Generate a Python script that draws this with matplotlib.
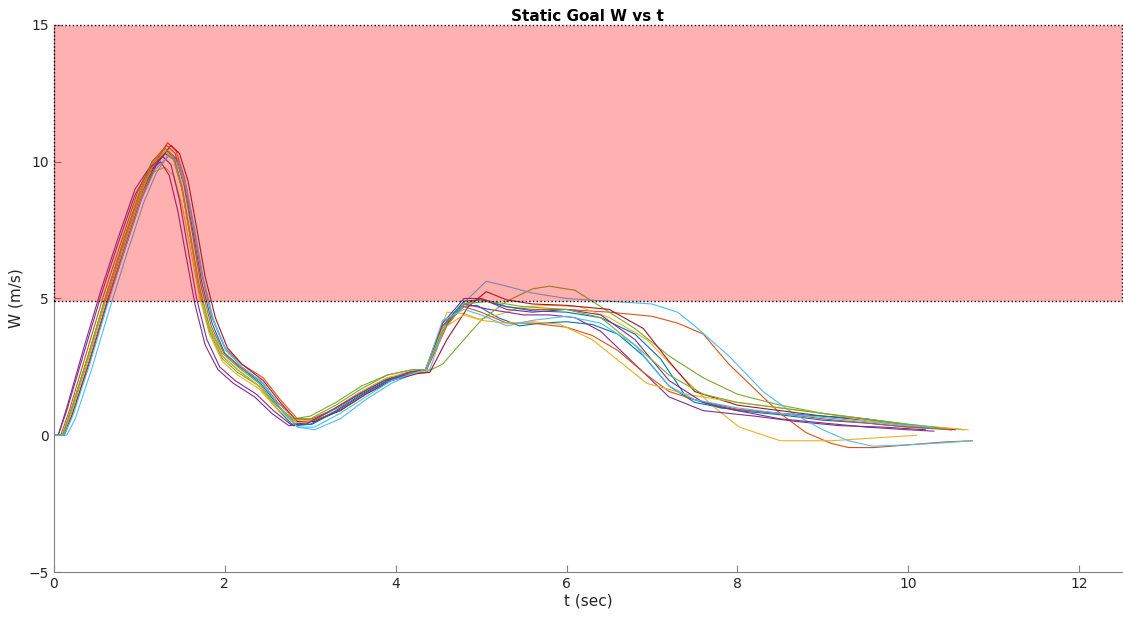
import matplotlib
matplotlib.use('Agg')
import matplotlib.pyplot as plt
from matplotlib.patches import Rectangle

# MATLAB default colour order
COLORS = ['#0072BD', '#D95319', '#EDB120', '#7E2F8E', '#77AC30', '#4DBEEE', '#A2142F']

LIMIT_LOW = 4.9
LIMIT_HIGH = 15

# one trial per list pair: time (s) and W (m/s)
t1 = [0, 0.1, 0.2, 0.4, 0.6, 0.8, 1.0, 1.15, 1.3, 1.4, 1.5, 1.6, 1.7, 1.82, 1.97, 2.15, 2.4, 2.6, 2.8, 3.0, 3.3, 3.6, 3.9, 4.2, 4.35,
      4.55, 4.75, 4.95, 5.2, 5.45, 5.7, 6.0, 6.3, 6.6, 6.9, 7.2, 7.5, 8.0, 8.5, 9.0, 9.5, 10.0, 10.3]
w1 = [0, 0, 0.9, 2.9, 5.0, 6.9, 8.7, 9.8, 10.3, 10.1, 9.0, 7.2, 5.4, 3.9, 2.9, 2.4, 1.8, 1.0, 0.35, 0.4, 0.9, 1.5, 2.0, 2.3, 2.4,
      3.8, 4.7, 4.75, 4.3, 4.0, 4.1, 4.15, 4.05, 3.7, 2.9, 1.8, 1.2, 0.9, 0.75, 0.55, 0.45, 0.3, 0.25]

t2 = [0, 0.12, 0.22, 0.42, 0.62, 0.82, 1.02, 1.18, 1.33, 1.43, 1.53, 1.63, 1.73, 1.85, 2.0, 2.2, 2.45, 2.65, 2.85, 3.05, 3.35, 3.65, 3.95, 4.25, 4.35,
      4.6, 4.8, 5.0, 5.3, 5.6, 6.0, 6.5, 7.0, 7.3, 7.6, 7.9, 8.2, 8.5, 8.8, 9.1, 9.3, 9.6, 10.0, 10.4, 10.75]
w2 = [0, 0, 0.8, 2.8, 4.9, 6.8, 8.7, 9.9, 10.7, 10.4, 9.4, 7.7, 5.9, 4.3, 3.2, 2.6, 2.1, 1.3, 0.6, 0.55, 0.9, 1.5, 2.0, 2.3, 2.3,
      4.0, 4.8, 5.0, 4.7, 4.6, 4.6, 4.5, 4.35, 4.1, 3.7, 2.6, 1.7, 0.8, 0.1, -0.3, -0.45, -0.45, -0.35, -0.25, -0.2]

t3 = [0, 0.1, 0.2, 0.4, 0.6, 0.8, 1.0, 1.15, 1.3, 1.4, 1.5, 1.6, 1.7, 1.82, 1.97, 2.15, 2.4, 2.6, 2.8, 3.0, 3.3, 3.6, 3.9, 4.2, 4.35,
      4.6, 4.8, 4.98, 5.2, 5.49, 5.8, 6.15, 6.5, 6.94, 7.4, 7.7, 8.02, 8.5, 9.1, 9.6, 10.1]
w3 = [0, 0, 0.8, 2.8, 4.9, 6.8, 8.6, 9.6, 9.8, 9.5, 8.4, 6.8, 5.1, 3.7, 2.7, 2.2, 1.7, 1.0, 0.5, 0.55, 1.0, 1.6, 2.1, 2.35, 2.4,
      4.5, 4.45, 4.24, 4.4, 4.7, 4.75, 4.7, 4.3, 3.5, 2.0, 1.1, 0.3, -0.2, -0.2, -0.1, 0.0]

t4 = [0, 0.05, 0.15, 0.35, 0.55, 0.75, 0.95, 1.1, 1.25, 1.35, 1.45, 1.55, 1.65, 1.77, 1.92, 2.1, 2.35, 2.55, 2.75, 2.95, 3.25, 3.55, 3.85, 4.15, 4.35,
      4.55, 4.8, 5.1, 5.5, 5.8, 6.1, 6.4, 6.8, 7.2, 7.6, 8.2, 8.7, 9.2, 9.7, 10.2]
w4 = [0, 0, 0.9, 3.0, 5.1, 7.0, 8.8, 9.6, 10.0, 9.5, 8.2, 6.5, 4.8, 3.3, 2.4, 1.9, 1.4, 0.8, 0.35, 0.4, 0.9, 1.5, 2.0, 2.3, 2.4,
      3.9, 4.8, 4.6, 4.4, 4.4, 4.3, 3.8, 2.6, 1.4, 0.9, 0.7, 0.5, 0.35, 0.3, 0.2]

t5 = [0, 0.1, 0.2, 0.4, 0.6, 0.8, 1.0, 1.15, 1.3, 1.4, 1.5, 1.6, 1.7, 1.82, 1.97, 2.15, 2.4, 2.6, 2.8, 3.0, 3.3, 3.6, 3.9, 4.2, 4.35,
      4.55, 4.8, 5.0, 5.3, 5.6, 5.8, 6.1, 6.4, 6.8, 7.2, 7.6, 8.0, 8.5, 9.0, 9.5, 10.0, 10.65]
w5 = [0, 0, 0.9, 2.9, 5.0, 6.9, 8.8, 9.9, 10.5, 10.2, 9.0, 7.2, 5.3, 3.8, 2.8, 2.3, 1.8, 1.1, 0.6, 0.7, 1.2, 1.8, 2.2, 2.4, 2.3,
      2.6, 3.5, 4.2, 4.9, 5.35, 5.45, 5.3, 4.7, 3.9, 2.9, 2.1, 1.5, 1.1, 0.8, 0.6, 0.4, 0.2]

t6 = [0, 0.15, 0.25, 0.45, 0.65, 0.85, 1.05, 1.2, 1.35, 1.45, 1.55, 1.65, 1.75, 1.87, 2.02, 2.2, 2.45, 2.65, 2.85, 3.05, 3.35, 3.65, 3.95, 4.25, 4.4,
      4.6, 4.85, 5.06, 5.3, 5.6, 6.0, 6.5, 7.0, 7.3, 7.5, 7.9, 8.3, 8.65, 9.0, 9.3, 9.58, 10.0, 10.4, 10.75]
w6 = [0, 0, 0.6, 2.5, 4.6, 6.6, 8.5, 9.6, 10.3, 10.1, 9.1, 7.5, 5.7, 4.2, 3.1, 2.5, 1.9, 1.0, 0.3, 0.2, 0.6, 1.3, 1.9, 2.3, 2.4,
      4.2, 5.0, 5.63, 5.45, 5.2, 5.0, 4.9, 4.8, 4.5, 4.0, 2.9, 1.6, 0.8, 0.2, -0.2, -0.4, -0.35, -0.28, -0.2]

t7 = [0, 0.12, 0.22, 0.42, 0.62, 0.82, 1.02, 1.2, 1.37, 1.47, 1.57, 1.67, 1.77, 1.89, 2.03, 2.2, 2.45, 2.65, 2.85, 3.05, 3.35, 3.65, 3.95, 4.25, 4.4,
      4.6, 4.85, 5.06, 5.3, 5.6, 6.0, 6.5, 6.9, 7.2, 7.5, 8.0, 8.5, 9.0, 9.5, 10.0, 10.55]
w7 = [0, 0, 0.8, 2.7, 4.8, 6.7, 8.6, 9.9, 10.6, 10.3, 9.3, 7.6, 5.8, 4.3, 3.2, 2.6, 2.0, 1.2, 0.5, 0.5, 0.9, 1.5, 2.0, 2.25, 2.3,
      3.5, 4.7, 5.25, 4.95, 4.8, 4.75, 4.6, 3.9, 2.7, 1.6, 1.1, 0.9, 0.7, 0.55, 0.35, 0.2]

t8 = [0, 0.1, 0.2, 0.4, 0.6, 0.8, 1.0, 1.17, 1.33, 1.43, 1.53, 1.63, 1.73, 1.85, 2.0, 2.18, 2.42, 2.62, 2.82, 3.02, 3.32, 3.62, 3.92, 4.22, 4.35,
      4.55, 4.8, 5.0, 5.3, 5.6, 6.0, 6.4, 6.8, 7.1, 7.4, 7.8, 8.5, 9.0, 9.5, 10.0, 10.5]
w8 = [0, 0, 0.8, 2.8, 4.9, 6.8, 8.7, 9.8, 10.4, 10.1, 9.1, 7.4, 5.6, 4.1, 3.0, 2.5, 1.9, 1.1, 0.4, 0.4, 0.9, 1.5, 2.0, 2.3, 2.4,
      4.0, 4.9, 4.95, 4.7, 4.55, 4.5, 4.3, 3.7, 2.8, 1.4, 1.0, 0.8, 0.7, 0.6, 0.35, 0.2]

t9 = [0, 0.08, 0.18, 0.38, 0.58, 0.78, 0.98, 1.15, 1.32, 1.42, 1.52, 1.62, 1.72, 1.84, 1.99, 2.17, 2.42, 2.62, 2.82, 3.02, 3.32, 3.62, 3.92, 4.22, 4.35,
      4.55, 4.8, 5.0, 5.3, 5.6, 6.0, 6.3, 6.6, 6.9, 7.2, 7.5, 8.0, 8.5, 9.0, 9.5, 10.0, 10.5]
w9 = [0, 0, 0.9, 3.0, 5.1, 7.0, 8.9, 10.0, 10.6, 10.3, 9.2, 7.4, 5.5, 4.0, 3.0, 2.5, 2.0, 1.2, 0.6, 0.6, 1.0, 1.6, 2.1, 2.3, 2.4,
      4.0, 4.7, 4.5, 4.1, 4.1, 3.95, 3.65, 3.1, 2.3, 1.6, 1.3, 0.95, 0.8, 0.6, 0.45, 0.3, 0.2]

t10 = [0, 0.1, 0.2, 0.4, 0.6, 0.8, 1.0, 1.15, 1.3, 1.4, 1.5, 1.6, 1.7, 1.82, 1.97, 2.15, 2.4, 2.6, 2.8, 3.0, 3.3, 3.6, 3.9, 4.2, 4.35,
       4.55, 4.8, 5.0, 5.3, 5.6, 5.92, 6.3, 6.7, 6.94, 7.4, 8.0, 8.5, 9.0, 9.5, 10.0, 10.5, 10.7]
w10 = [0, 0, 0.8, 2.8, 4.9, 6.8, 8.7, 9.8, 10.4, 10.1, 9.0, 7.2, 5.4, 3.9, 2.9, 2.4, 1.8, 1.0, 0.45, 0.5, 1.0, 1.6, 2.1, 2.3, 2.35,
       3.9, 4.4, 4.2, 4.1, 4.15, 4.06, 3.5, 2.5, 1.9, 1.5, 1.2, 1.0, 0.8, 0.55, 0.35, 0.25, 0.2]

t11 = [0, 0.05, 0.15, 0.35, 0.55, 0.75, 0.95, 1.1, 1.27, 1.37, 1.47, 1.57, 1.67, 1.79, 1.94, 2.12, 2.37, 2.57, 2.77, 2.97, 3.27, 3.57, 3.87, 4.17, 4.35,
       4.55, 4.8, 5.0, 5.3, 5.6, 6.0, 6.4, 6.8, 7.2, 7.6, 8.0, 8.5, 9.0, 9.5, 10.0, 10.3]
w11 = [0, 0, 1.0, 3.2, 5.3, 7.2, 9.0, 9.7, 10.2, 9.9, 8.6, 6.8, 5.0, 3.5, 2.5, 2.0, 1.5, 0.9, 0.4, 0.45, 0.95, 1.5, 2.0, 2.3, 2.4,
       4.1, 5.0, 5.0, 4.6, 4.5, 4.6, 4.4, 3.5, 2.0, 1.2, 0.9, 0.6, 0.45, 0.3, 0.2, 0.15]

t12 = [0, 0.1, 0.2, 0.4, 0.6, 0.8, 1.0, 1.15, 1.3, 1.4, 1.5, 1.6, 1.7, 1.82, 1.97, 2.15, 2.4, 2.6, 2.8, 3.0, 3.3, 3.6, 3.9, 4.2, 4.35,
       4.55, 4.8, 5.1, 5.5, 6.0, 6.4, 6.8, 7.2, 7.6, 8.0, 8.5, 9.0, 9.5, 10.0, 10.4]
w12 = [0, 0, 0.9, 2.9, 5.0, 7.0, 8.9, 10.0, 10.5, 10.2, 9.1, 7.3, 5.5, 4.0, 3.0, 2.5, 1.9, 1.1, 0.55, 0.6, 1.1, 1.7, 2.2, 2.4, 2.4,
       3.8, 4.8, 4.9, 4.7, 4.6, 4.3, 3.3, 2.2, 1.5, 1.2, 1.0, 0.8, 0.6, 0.4, 0.25]

t13 = [0, 0.12, 0.22, 0.42, 0.62, 0.82, 1.02, 1.18, 1.34, 1.44, 1.54, 1.64, 1.74, 1.86, 2.01, 2.2, 2.45, 2.65, 2.85, 3.05, 3.35, 3.65, 3.95, 4.25, 4.35,
       4.55, 4.8, 5.0, 5.3, 5.6, 6.0, 6.4, 6.8, 7.2, 7.5, 8.0, 8.5, 9.0, 9.5, 10.0, 10.3]
w13 = [0, 0, 0.7, 2.6, 4.7, 6.7, 8.6, 9.7, 10.2, 10.0, 9.1, 7.5, 5.8, 4.3, 3.1, 2.5, 1.9, 1.0, 0.3, 0.3, 0.8, 1.4, 2.0, 2.3, 2.4,
       4.2, 4.6, 4.4, 4.0, 4.2, 4.35, 4.1, 3.3, 1.8, 1.3, 1.0, 0.8, 0.65, 0.5, 0.35, 0.3]

T_RUNS = [t1, t2, t3, t4, t5, t6, t7, t8, t9, t10, t11, t12, t13]
W_RUNS = [w1, w2, w3, w4, w5, w6, w7, w8, w9, w10, w11, w12, w13]

fig = plt.figure(figsize=(11.23, 6.2), dpi=100)
ax = fig.add_axes([0.048, 0.0774, 0.951, 0.8823])

for i, (t, w) in enumerate(zip(T_RUNS, W_RUNS)):
    ax.plot(t, w, color=COLORS[i % len(COLORS)], lw=0.8)

# unsafe region, drawn over the traces like a transparent patch
ax.add_patch(Rectangle((0, LIMIT_LOW), 12.5, LIMIT_HIGH - LIMIT_LOW, facecolor=(1, 0, 0, 0.31),
                       edgecolor='black', linestyle=':', lw=1.0, zorder=3, clip_on=False))

ax.set_xlim(0, 12.5)
ax.set_ylim(-5, 15)
ax.set_xticks([0, 2, 4, 6, 8, 10, 12])
ax.set_yticks([-5, 0, 5, 10, 15])
ax.spines['top'].set_visible(False)
ax.spines['right'].set_visible(False)
for s in ('left', 'bottom'):
    ax.spines[s].set_color('#808080')
ax.tick_params(direction='in', length=5, colors='#262626', labelsize=10)
ax.tick_params(axis='both', color='#808080')
ax.set_xlabel('t (sec)', fontsize=11, color='#262626', labelpad=2)
ax.set_ylabel('W (m/s)', fontsize=11, color='#262626', labelpad=4)
ax.set_title('Static Goal W vs t', fontsize=11, fontweight='bold', pad=3)

fig.savefig('out.png', dpi=100)
